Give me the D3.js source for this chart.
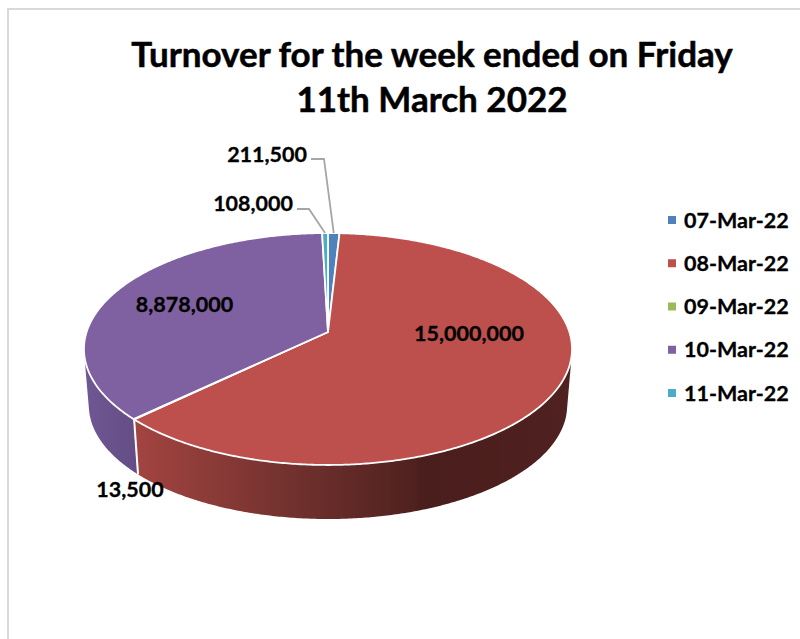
<!DOCTYPE html>
<html lang="en">
  <head>
    <meta charset="UTF-8" />
    <title>Turnover for the week</title>
    <style>
      html, body { margin: 0; padding: 0; background: #fff; }
      svg { display: block; }
      text { font-family: Lato, "Open Sans", sans-serif; font-weight: 700; fill: #000; stroke: #000; stroke-width: 0.3; }
    </style>
  </head>

  <body>
    <div id="chart"></div>

    <script src="https://cdn.jsdelivr.net/npm/d3@7/dist/d3.min.js"></script>
    <script>

      var titleLines = ["Turnover for the week ended on Friday", "11th March 2022"];
      var dates = ["07-Mar-22", "08-Mar-22", "09-Mar-22", "10-Mar-22", "11-Mar-22"];
      var turnover = [211500, 15000000, 13500, 8878000, 108000];
      var colors = ["#4f81bd", "#bd504d", "#9bbb59", "#7f60a0", "#4bacc6"];

      var w = 800;
      var h = 639;

      var svg = d3.select("#chart")
                  .append("svg")
                  .attr("width", w)
                  .attr("height", h);

      // frame, only the top and left edges are in the picture
      svg.append("path")
         .attr("d", "M8,639V9H800")
         .attr("fill", "none")
         .attr("stroke", "#d9d9d9")
         .attr("stroke-width", 2);

      svg.selectAll(".title")
         .data(titleLines)
         .enter()
         .append("text")
         .attr("class", "title")
         .attr("x", 432)
         .attr("y", function(d, i) { return 67 + i * 45; })
         .attr("text-anchor", "middle")
         .attr("font-size", 35)
         .style("stroke-width", 0.5)
         .text(function(d) { return d; });

      // pie in perspective: a circle on a tilted plane, seen from above
      var pie = d3.pie()
                  .sort(null)
                  .value(function(d) { return d; })
                  .startAngle(0)
                  .endAngle(2 * Math.PI);
      var slices = pie(turnover);

      var cx = 328, cy = 332, rx = 241.4, ry = 113.5, tilt = 0.1465;
      var depth = 56.7, shrink = 0.98;

      function project(angle, level) {
        var s = 1 - (1 - shrink) * level;
        var px = Math.sin(angle), py = -Math.cos(angle);
        var q = 1 - tilt * py;
        return [cx + rx * s * px / q, cy + depth * level + ry * s * py / q];
      }

      var step = Math.PI / 360;
      function arcAngles(d) {
        var list = d3.range(d.startAngle, d.endAngle, step);
        list.push(d.endAngle);
        return list;
      }

      var line = d3.line();

      // side wall shading runs left to right
      var wallStops = [
        [[330, "#3f6797"], [345, "#3f6797"]],
        [[135, "#a34441"], [300, "#6f302d"], [415, "#4f211f"], [420, "#4a1e1c"], [572, "#4f2120"]],
        [[130, "#7c9648"], [140, "#7c9648"]],
        [[85, "#6f5794"], [138, "#644c84"]],
        [[320, "#3c8a9e"], [330, "#3c8a9e"]]
      ];

      var defs = svg.append("defs");
      wallStops.forEach(function(stops, i) {
        var x0 = stops[0][0], x1 = stops[stops.length - 1][0];
        var g = defs.append("linearGradient")
                    .attr("id", "wall" + i)
                    .attr("gradientUnits", "userSpaceOnUse")
                    .attr("x1", x0)
                    .attr("x2", x1)
                    .attr("y1", 0)
                    .attr("y2", 0);
        stops.forEach(function(s) {
          g.append("stop")
           .attr("offset", (s[0] - x0) / (x1 - x0))
           .attr("stop-color", s[1]);
        });
      });

      // wall is a union of thin strips, all wound the same way, so the sides get the straight silhouette
      function wallPath(d) {
        var list = arcAngles(d);
        var out = "";
        for (var i = 0; i < list.length - 1; i++) {
          var quad = [project(list[i], 0), project(list[i + 1], 0), project(list[i + 1], 1), project(list[i], 1)];
          if (d3.polygonArea(quad) < 0) quad.reverse();
          out += line(quad) + "Z";
        }
        return out;
      }

      svg.append("g")
         .selectAll("path")
         .data(slices)
         .enter()
         .append("path")
         .attr("d", wallPath)
         .attr("fill", function(d) { return "url(#wall" + d.index + ")"; });

      // white seam between the purple and red walls
      var seam = slices[2];
      svg.append("path")
         .attr("d", line([project(seam.startAngle, 0), project(seam.startAngle, 1)]))
         .attr("stroke", "#fff")
         .attr("stroke-width", 2)
         .attr("fill", "none");

      // top face
      svg.append("g")
         .selectAll("path")
         .data(slices)
         .enter()
         .append("path")
         .attr("d", function(d) {
           var pts = arcAngles(d).map(function(a) { return project(a, 0); });
           pts.unshift([cx, cy]);
           return line(pts) + "Z";
         })
         .attr("fill", function(d) { return colors[d.index]; })
         .attr("stroke", "#fff")
         .attr("stroke-width", 1.8)
         .attr("stroke-linejoin", "round");

      function mid(d) { return (d.startAngle + d.endAngle) / 2; }

      // leader lines for the two thin slices
      var leaders = [
        { index: 0, pts: [[311, 159], [324, 159]] },
        { index: 4, pts: [[297, 209], [309, 209]] }
      ];
      svg.selectAll(".leader")
         .data(leaders)
         .enter()
         .append("path")
         .attr("class", "leader")
         .attr("d", function(d) {
           return line(d.pts.concat([project(mid(slices[d.index]), 0)]));
         })
         .attr("fill", "none")
         .attr("stroke", "#a6a6a6")
         .attr("stroke-width", 1.8);

      // value labels, placed by hand like the original
      var fmt = d3.format(",");
      var labelPos = [
        { x: 307, y: 162, anchor: "end" },
        { x: 469, y: 341, anchor: "middle" },
        { x: 130, y: 497, anchor: "middle" },
        { x: 184.5, y: 312, anchor: "middle" },
        { x: 293, y: 211, anchor: "end" }
      ];
      svg.selectAll(".value")
         .data(turnover)
         .enter()
         .append("text")
         .attr("class", "value")
         .attr("x", function(d, i) { return labelPos[i].x; })
         .attr("y", function(d, i) { return labelPos[i].y; })
         .attr("text-anchor", function(d, i) { return labelPos[i].anchor; })
         .attr("font-size", 21.5)
         .text(function(d) { return fmt(d); });

      // legend
      var legendY = d3.scalePoint()
                      .domain(dates)
                      .range([220, 393]);

      var legend = svg.selectAll(".legend")
                      .data(dates)
                      .enter()
                      .append("g")
                      .attr("class", "legend")
                      .attr("transform", function(d) { return "translate(668," + legendY(d) + ")"; });

      legend.append("rect")
            .attr("y", -4)
            .attr("width", 8)
            .attr("height", 8)
            .attr("fill", function(d, i) { return colors[i]; });

      legend.append("text")
            .attr("x", 16)
            .attr("y", 7.5)
            .attr("font-size", 21.5)
            .text(function(d) { return d; });

    </script>
  </body>
</html>
